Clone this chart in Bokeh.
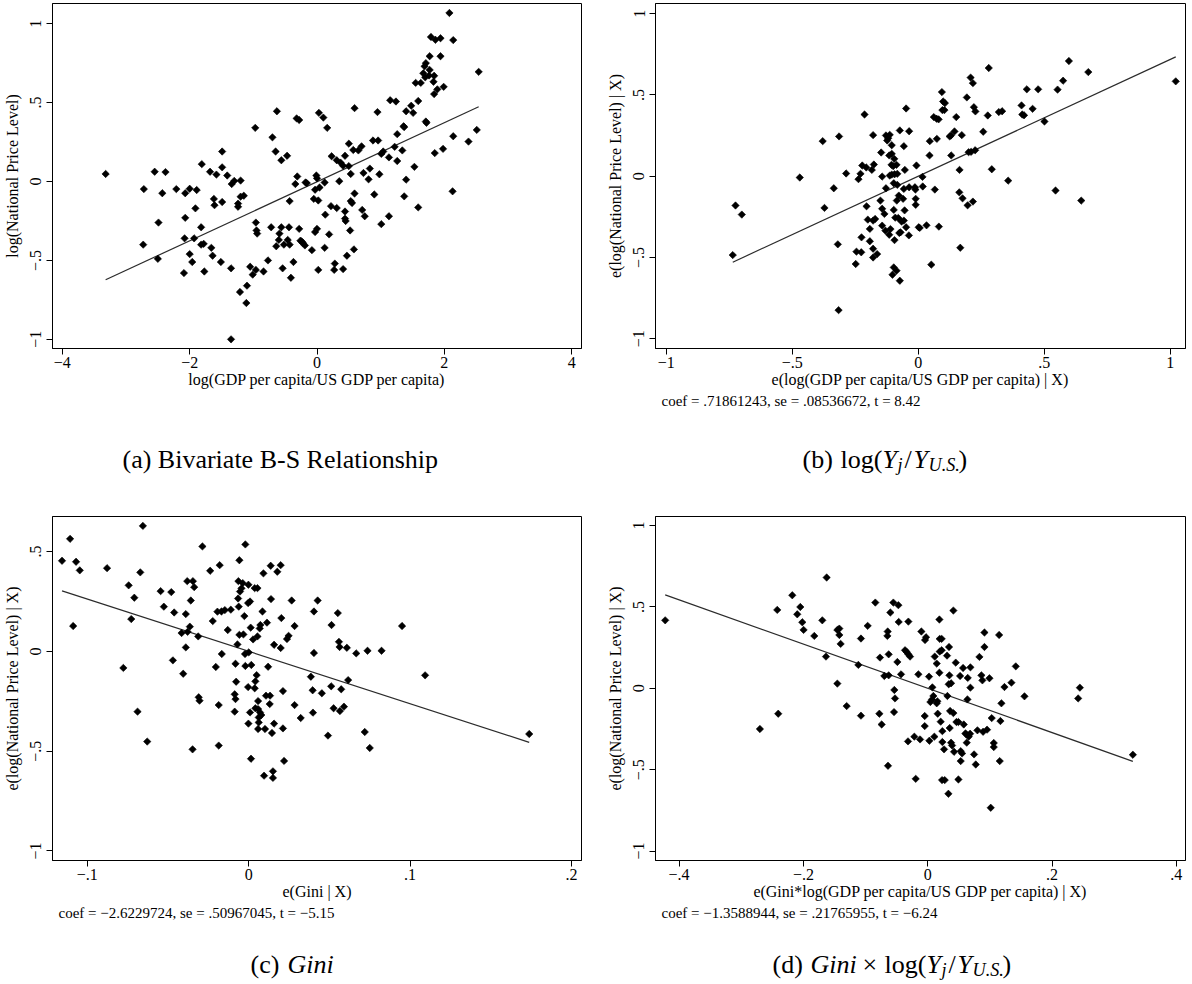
import numpy as np
from bokeh.plotting import figure
from bokeh.models import Range1d, FixedTicker, Title
from bokeh.core.properties import value
from bokeh.layouts import row, column
from bokeh.embed import file_html
from bokeh.resources import INLINE

# ---------------------------------------------------------------- data
# (a) log GDP per capita relative to the US vs log national price level
a_x = [-3.32, -2.73, -2.72, -2.55, -2.38, -2.43, -2.49, -2.50, -2.21, -2.07,
       -2.00, -1.89, -2.07, -2.08, -2.00, -1.96, -2.09, -1.91, -1.93, -1.82,
       -1.82, -1.78, -1.77, -1.81, -1.68, -1.58, -1.62, -1.61, -1.66, -1.64,
       -1.51, -1.49, -1.49, -1.49, -1.41, -1.34, -1.30, -1.20, -1.24, -1.24,
       -1.15, -1.20, -1.35, -1.21, -1.10, -1.11, -1.35, -1.05, -1.01, -0.96,
       -0.97, -0.96, -0.95, -0.94, -0.84, -0.77, -0.72, -0.70, -0.65, -0.63,
       -0.56, -0.47, -0.64, -0.59, -0.60, -0.56, -0.52, -0.54, -0.46, -0.43,
       -0.44, -0.43, -0.37, -0.41, -0.32, -0.28, -0.31, -0.34, -0.28, -0.26,
       -0.18, -0.16, -0.01, 0.00, -0.03, 0.04, 0.12, -0.05, 0.02, 0.03,
       0.10, 0.16, 0.23, 0.31, 0.37, 0.41, 0.44, 0.50, 0.50, 0.57,
       0.65, 0.70, 0.53, 0.35, 0.22, 0.31, 0.13, 0.44, 0.44, 0.45,
       0.53, 0.55, 0.59, 0.71, 0.75, 0.52, 0.58, 0.47, 0.41, 0.27,
       0.28, 0.12, 0.19, 0.02, -0.03, 0.00, -0.08, -0.19, -0.24, -0.22,
       0.73, 0.83, 0.81, 0.88, 0.96, 0.98, 0.90, 0.95, 0.59, 1.01,
       1.13, 1.01, 1.04, 1.13, 1.22, 1.26, 1.34, 1.26, 1.36, 1.37,
       1.15, 1.24, 1.40, 1.48, 1.51, 1.59, 1.40, 1.37, 1.53, 1.59,
       1.55, 1.63, 1.71, 1.72, 1.67, 1.69, 1.71, 1.70, 1.77, 1.76,
       1.84, 1.83, 1.77, 1.94, 1.89, 1.84, 1.99, 1.79, 1.86, 1.94,
       2.08, 2.14, 1.85, 1.98, 2.14, 2.13, 2.38, 2.51, 2.54]
a_y = [0.048, -0.40, -0.048, 0.062, 0.06, -0.074, -0.26, -0.49, -0.048, -0.074,
       -0.046, -0.054, -0.23, -0.36, -0.46, -0.51, -0.58, -0.17, -0.36, -0.29,
       -0.40, -0.395, -0.57, 0.11, 0.062, 0.044, -0.11, -0.15, -0.42, -0.47,
       -0.51, 0.19, 0.09, -0.13, 0.038, -0.016, 0.004, 0.006, -0.14, -0.16,
       -0.09, -0.096, -0.55, -0.70, -0.66, -0.77, -1.0, -0.54, -0.59, -0.56,
       0.34, -0.26, -0.31, -0.33, -0.57, -0.50, -0.29, 0.28, 0.19, 0.445,
       0.135, 0.163, -0.41, -0.33, -0.37, -0.29, -0.40, -0.55, -0.37, -0.40,
       -0.29, -0.124, -0.51, -0.61, 0.40, 0.39, 0.032, -0.016, -0.30, -0.375,
       -0.006, -0.01, 0.038, 0.02, -0.052, -0.038, -0.006, -0.11, -0.12, 0.435,
       0.405, 0.34, 0.16, 0.135, 0.12, 0.10, 0.163, 0.24, 0.098, 0.20,
       0.197, 0.223, 0.048, 0.002, -0.156, -0.168, -0.21, -0.19, -0.235, -0.25,
       -0.124, -0.136, -0.076, -0.18, -0.22, -0.31, -0.43, -0.47, -0.555, -0.56,
       -0.52, -0.42, -0.335, -0.56, -0.32, -0.30, -0.435, -0.405, -0.38, -0.39,
       0.054, 0.082, 0.014, 0.26, 0.26, 0.046, -0.082, 0.44, 0.465, -0.27,
       -0.22, 0.175, 0.19, 0.153, 0.22, 0.13, 0.197, 0.30, 0.35, 0.345,
       0.515, 0.507, 0.445, 0.48, 0.435, 0.51, 0.012, -0.094, 0.093, -0.164,
       0.625, 0.625, 0.38, 0.372, 0.686, 0.73, 0.75, 0.66, 0.707, 0.672,
       0.67, 0.632, 0.794, 0.794, 0.584, 0.554, 0.60, 0.916, 0.898, 0.908,
       1.068, 0.896, 0.18, 0.207, 0.287, -0.062, 0.253, 0.327, 0.695]

# (b) added-variable plot for log(Y_j / Y_US)
b_x = [-0.736, -0.725, -0.70, -0.47, -0.379, -0.314, -0.335, -0.372, -0.319, -0.316,
       -0.286, -0.248, -0.245, -0.226, -0.237, -0.229, -0.222, -0.206, -0.213, -0.179,
       -0.176, -0.184, -0.205, -0.20, -0.192, -0.179, -0.171, -0.225, -0.192, -0.179,
       -0.163, -0.179, -0.15, -0.147, -0.143, -0.134, -0.143, -0.13, -0.115, -0.11,
       -0.094, -0.097, -0.091, -0.079, -0.075, -0.128, -0.119, -0.123, -0.113, -0.105,
       -0.115, -0.105, -0.095, -0.106, -0.099, -0.086, -0.113, -0.105, -0.094, -0.083,
       -0.143, -0.128, -0.097, -0.083, -0.077, -0.085, -0.073, -0.097, -0.086, -0.102,
       -0.073, -0.066, -0.057, -0.07, -0.048, -0.037, -0.054, -0.06, -0.057, -0.048,
       -0.057, -0.036, -0.053, -0.036, -0.013, -0.011, -0.01, -0.01, -0.007, 0.017,
       0.018, 0.002, 0.006, 0.033, 0.046, 0.045, 0.074, 0.066, 0.082, 0.052,
       0.062, 0.073, 0.081, 0.096, 0.104, 0.099, 0.106, 0.094, 0.125, 0.131,
       0.13, 0.144, 0.151, 0.173, 0.164, 0.163, 0.176, 0.196, 0.217, 0.167,
       0.193, 0.208, 0.217, 0.221, 0.227, 0.20, 0.21, 0.226, 0.258, 0.276,
       0.28, 0.292, 0.32, 0.333, 0.357, 0.41, 0.413, 0.42, 0.454, 0.431,
       0.476, 0.501, 0.553, 0.575, 0.598, 0.675, 0.545, 0.647, 1.022]
b_y = [-0.485, -0.18, -0.236, -0.008, 0.216, 0.245, -0.074, -0.195, -0.419, -0.824,
       0.017, -0.54, -0.464, -0.468, -0.018, 0.015, 0.066, 0.054, 0.38, 0.253,
       0.072, 0.039, -0.185, -0.267, -0.324, -0.273, -0.263, -0.376, -0.40, -0.446,
       -0.479, -0.50, -0.15, 0.146, -0.20, -0.232, -0.304, -0.335, -0.36, -0.325,
       -0.393, -0.207, -0.255, -0.257, -0.349, 0.251, 0.234, 0.22, 0.255, 0.191,
       0.128, 0.138, 0.107, 0.07, 0.062, 0.07, 0.004, 0.01, 0.012, 0.015,
       -0.002, -0.074, -0.043, -0.053, -0.119, -0.15, 0.282, -0.561, -0.581, -0.606,
       -0.643, -0.279, -0.273, -0.345, -0.314, -0.364, -0.21, -0.139, -0.078, 0.417,
       0.185, 0.277, 0.039, -0.068, -0.068, -0.082, -0.139, -0.176, 0.066, -0.004,
       -0.063, -0.314, -0.318, -0.302, 0.216, 0.128, 0.23, -0.082, -0.31, -0.544,
       0.364, 0.354, 0.35, 0.407, 0.407, 0.46, 0.45, 0.518, 0.245, 0.128,
       0.251, 0.276, 0.364, 0.253, 0.039, -0.099, -0.136, -0.179, -0.156, -0.44,
       0.485, 0.607, 0.573, 0.425, 0.399, 0.148, 0.15, 0.16, 0.274, 0.374,
       0.666, 0.043, 0.395, 0.40, -0.027, 0.436, 0.38, 0.375, 0.415, 0.535,
       0.535, 0.337, 0.533, 0.588, 0.709, 0.641, -0.088, -0.15, 0.584]
b_coef, b_se, b_t = 0.71861243, 0.08536672, 8.42

# (c) added-variable plot for Gini
c_x = [-0.1157, -0.1107, -0.1070, -0.1047, -0.1088, -0.0878, -0.0656, -0.0744, -0.0709, -0.0728,
       -0.0672, -0.0777, -0.0689, -0.0629, -0.0546, -0.0526, -0.0480, -0.0462, -0.0470, -0.0416,
       -0.0390, -0.0381, -0.0346, -0.0338, -0.0359, -0.0379, -0.0365, -0.0390, -0.0313, -0.0406,
       -0.0310, -0.0305, -0.0348, -0.0287, -0.0239, -0.0223, -0.0204, -0.0186, -0.0186, -0.0194,
       -0.0180, -0.0169, -0.0148, -0.0167, -0.0130, -0.0111, -0.0082, -0.0078, -0.0087, -0.0082,
       -0.0087, -0.0070, -0.0066, -0.0062, -0.0058, -0.0064, -0.0058, -0.0054, -0.0045, -0.0037,
       -0.0033, -0.0027, -0.0023, -0.0021, -0.0021, -0.0004, -0.0004, -0.0002, -0.0002, 0.0000,
       0.0008, 0.0012, 0.0008, 0.0016, 0.0014, 0.0027, 0.0037, 0.0049, 0.0041, 0.0037,
       0.0041, 0.0054, 0.0054, 0.0058, 0.0058, 0.0062, 0.0062, 0.0058, 0.0068, 0.0072,
       0.0070, 0.0078, 0.0085, 0.0091, 0.0095, 0.0101, 0.0107, 0.0113, 0.0120, 0.0132,
       0.0130, 0.0136, 0.0138, 0.0144, 0.0150, 0.0150, 0.0157, 0.0157, 0.0177, 0.0198,
       0.0202, 0.0198, 0.0212, 0.0212, 0.0219, 0.0237, 0.0247, 0.0266, 0.0284, 0.0284,
       0.0322, 0.0404, 0.0427, 0.0404, 0.0385, 0.0396, 0.0398, 0.0453, 0.0491, 0.0513,
       0.0511, 0.0526, 0.0552, 0.0559, 0.0563, 0.0565, 0.0573, 0.0590, 0.0608, 0.0616,
       0.0666, 0.0719, 0.0736, 0.0750, 0.0823, 0.0950, 0.1093, 0.1738]
c_y = [0.454, 0.564, 0.449, 0.406, 0.127, 0.417, 0.629, 0.331, 0.269, 0.162,
       0.396, -0.083, -0.302, -0.452, 0.302, 0.224, 0.297, 0.195, -0.045, 0.092,
       0.187, 0.352, 0.352, 0.322, 0.255, 0.098, 0.124, 0.020, 0.075, -0.112,
       -0.230, -0.247, -0.491, 0.526, 0.404, 0.152, -0.078, -0.269, -0.472, 0.199,
       0.432, 0.200, 0.207, -0.013, 0.107, 0.209, -0.062, -0.152, -0.215, -0.239,
       -0.302, 0.035, 0.265, 0.224, 0.083, 0.352, 0.457, 0.300, 0.316, 0.342,
       0.085, 0.177, -0.013, 0.536, -0.073, 0.242, -0.179, 0.334, -0.362, -0.005,
       0.250, 0.119, -0.306, -0.068, -0.538, 0.060, 0.317, -0.119, -0.150, -0.185,
       -0.285, 0.317, 0.075, -0.249, -0.289, -0.331, -0.356, -0.389, 0.115, 0.132,
       -0.306, -0.319, 0.200, 0.391, -0.623, -0.389, -0.222, 0.144, -0.077, -0.222,
       -0.264, 0.429, 0.262, -0.409, -0.601, -0.634, 0.033, -0.362, 0.399, 0.432,
       0.167, 0.017, -0.199, -0.386, -0.549, 0.062, 0.078, 0.255, 0.127, -0.269,
       -0.334, 0.200, 0.255, -0.008, -0.127, -0.195, -0.307, -0.210, -0.422, 0.132,
       -0.175, -0.285, 0.192, 0.048, 0.022, -0.299, -0.190, -0.277, 0.018, -0.144,
       -0.010, -0.404, 0.003, -0.484, 0.003, 0.127, -0.120, -0.414]
c_coef, c_se, c_t = -2.6229724, 0.50967045, -5.15

# (d) added-variable plot for Gini x log(Y_j / Y_US)
d_x = [-0.4224, -0.2700, -0.2405, -0.2421, -0.2179, -0.2099, -0.2050, -0.2018, -0.1997, -0.1825,
       -0.1696, -0.1626, -0.1637, -0.1454, -0.1454, -0.1422, -0.1422, -0.1401, -0.1304, -0.1116,
       -0.1074, -0.1074, -0.0966, -0.0843, -0.0768, -0.0778, -0.0741, -0.0698, -0.0649, -0.0644,
       -0.0628, -0.0628, -0.0639, -0.0601, -0.0553, -0.0537, -0.0526, -0.0542, -0.0488, -0.0472,
       -0.0467, -0.0365, -0.0338, -0.0311, -0.0284, -0.0311, -0.0429, -0.0150, -0.0317, -0.0215,
       -0.0123, -0.0193, -0.0102, -0.0043, -0.0027, -0.0048, -0.0048, 0.0021, 0.0027, 0.0075,
       0.0091, 0.0043, 0.0070, 0.0145, 0.0156, 0.0107, 0.0113, 0.0145, 0.0161, 0.0188,
       0.0188, 0.0193, 0.0225, 0.0193, 0.0225, 0.0209, 0.0236, 0.0236, 0.0263, 0.0231,
       0.0274, 0.0333, 0.0311, 0.0317, 0.0343, 0.0349, 0.0338, 0.0376, 0.0360, 0.0354,
       0.0376, 0.0392, 0.0413, 0.0413, 0.0424, 0.0451, 0.0462, 0.0494, 0.0494, 0.0521,
       0.0531, 0.0531, 0.0553, 0.0569, 0.0580, 0.0607, 0.0623, 0.0644, 0.0639, 0.0628,
       0.0660, 0.0687, 0.0687, 0.0682, 0.0746, 0.0773, 0.0800, 0.0832, 0.0864, 0.0880,
       0.0891, 0.0913, 0.0913, 0.0955, 0.0993, 0.1014, 0.1030, 0.1063, 0.1063, 0.1149,
       0.1159, 0.1170, 0.1186, 0.1235, 0.1347, 0.1417, 0.1557, 0.2421, 0.2448, 0.3301]
d_y = [0.418, -0.250, -0.156, 0.482, 0.572, 0.455, 0.500, 0.406, 0.359, 0.322,
       0.418, 0.681, 0.195, 0.029, 0.359, 0.367, 0.328, 0.273, -0.109, 0.144,
       0.306, -0.168, 0.384, 0.527, 0.189, -0.156, -0.222, 0.076, 0.322, 0.349,
       0.209, 0.080, -0.476, 0.466, 0.527, -0.010, -0.062, -0.146, 0.162, 0.511,
       0.408, 0.234, 0.224, 0.209, 0.195, 0.410, 0.086, 0.086, -0.326, -0.297,
       -0.314, -0.556, 0.349, 0.297, 0.314, -0.170, -0.232, 0.072, -0.322, 0.006,
       -0.047, -0.084, -0.068, -0.092, -0.080, -0.297, 0.195, 0.152, -0.156, 0.096,
       0.423, 0.304, 0.304, 0.226, 0.234, -0.205, -0.263, -0.330, -0.375, -0.564,
       -0.564, -0.648, 0.201, -0.047, 0.254, 0.080, 0.025, 0.031, -0.139, -0.244,
       -0.334, -0.351, 0.478, -0.152, -0.390, 0.158, -0.207, -0.207, -0.560, 0.076,
       -0.386, -0.447, -0.400, 0.125, -0.222, -0.277, -0.283, 0.064, -0.068, -0.334,
       -0.297, 0.129, 0.004, -0.279, -0.406, -0.468, -0.258, 0.193, 0.080, 0.049,
       -0.267, 0.254, 0.343, -0.254, 0.062, -0.734, -0.183, -0.336, -0.361, 0.328,
       -0.447, -0.201, -0.092, 0.008, 0.035, 0.135, -0.049, -0.062, 0.004, -0.408]
d_coef, d_se, d_t = -1.3588944, 0.21765955, -6.24

# axis ticks of each panel
a_xticks = [-4, -2, 0, 2, 4]
a_yticks = [-1, -0.5, 0, 0.5, 1]
b_xticks = [-1, -0.5, 0, 0.5, 1]
b_yticks = [-1, -0.5, 0, 0.5, 1]
c_xticks = [-0.1, 0, 0.1, 0.2]
c_yticks = [-1, -0.5, 0, 0.5]
d_xticks = [-0.4, -0.2, 0, 0.2, 0.4]
d_yticks = [-1, -0.5, 0, 0.5, 1]

y_title = "log(National Price Level)"
av_y_title = "e(log(National Price Level) | X)"

# ---------------------------------------------------------------- helpers
SERIF = "Liberation Serif"
MINUS = "\u2212"
FONT = "16px"


def stata_num(v):
    """Stata-style number: no leading zero, true minus sign."""
    s = f"{abs(v):g}"
    if s.startswith("0."):
        s = s[1:]
    return (MINUS + s) if v < 0 else s


def stata_coef(v, nd):
    s = f"{abs(v):.{nd}f}"
    if s.startswith("0."):
        s = s[1:]
    return (MINUS + s) if v < 0 else s


def panel(width, height, left, right, top, bottom, xr, yr,
          xticks, yticks, xlabel, ylabel):
    p = figure(width=width, height=height, output_backend="svg",
               toolbar_location=None, title=None,
               x_range=Range1d(*xr), y_range=Range1d(*yr),
               min_border_left=left, min_border_right=right,
               min_border_top=top, min_border_bottom=bottom)
    p.background_fill_color = "white"
    p.border_fill_color = "white"
    p.outline_line_color = "black"
    p.outline_line_width = 1
    p.grid.visible = False
    p.xaxis.ticker = FixedTicker(ticks=xticks)
    p.yaxis.ticker = FixedTicker(ticks=yticks)
    p.xaxis.major_label_overrides = {t: stata_num(t) for t in xticks}
    p.yaxis.major_label_overrides = {t: stata_num(t) for t in yticks}
    p.yaxis.major_label_orientation = "vertical"
    p.axis.minor_tick_line_color = None
    p.axis.axis_line_color = "black"
    p.axis.major_tick_line_color = "black"
    p.axis.major_tick_in = 0
    p.axis.major_tick_out = 6
    p.xaxis.major_label_standoff = 2
    p.yaxis.major_label_standoff = 5
    p.axis.major_label_text_font = SERIF
    p.axis.major_label_text_font_size = FONT
    p.axis.major_label_text_color = "black"
    p.axis.axis_label_text_font = SERIF
    p.axis.axis_label_text_font_size = FONT
    p.axis.axis_label_text_font_style = "normal"
    p.axis.axis_label_text_color = "black"
    p.xaxis.axis_label_standoff = 0
    p.yaxis.axis_label_standoff = 7
    p.xaxis.axis_label = xlabel
    p.yaxis.axis_label = ylabel
    return p


def scatter_fit(p, xs, ys, slope, intercept):
    xs = np.asarray(xs, float)
    lx = np.array([xs.min(), xs.max()])
    p.line(lx, intercept + slope * lx, line_color="#2b2b2b", line_width=1.2)
    p.scatter(xs, ys, marker="square", angle=np.pi / 4, size=5.2,
              fill_color="black", line_color="black", line_width=0.6)


def note(p, coef, se, t, nd_coef):
    text = (f"coef = {stata_coef(coef, nd_coef)}, se = {stata_coef(se, 8)}, "
            f"t = {stata_num(t)}")
    p.add_layout(Title(text=text, align="left", offset=6, standoff=0,
                       text_font=SERIF, text_font_size="15px",
                       text_font_style="normal", text_color="black"), "below")


CAP = 26   # caption font size (px)


def caption_strip(height, captions):
    """A full-width strip holding the sub-figure captions (pixel coordinates).

    Each caption is a run of pieces (text, style, scale, drop, advance) laid
    out left to right.
    """
    s = figure(width=1192, height=height, output_backend="svg",
               toolbar_location=None, title=None,
               x_range=Range1d(0, 1192), y_range=Range1d(height, 0),
               x_axis_location=None, y_axis_location=None,
               min_border=0)
    s.outline_line_color = None
    s.grid.visible = False
    s.background_fill_color = "white"
    s.border_fill_color = "white"
    for x0, base, pieces in captions:
        x = x0
        for text, style, scale, drop, advance in pieces:
            size = CAP * scale
            s.text(x=[x], y=[base + drop], text=[text],
                   text_font=value(SERIF), text_font_size=value(f"{size:.1f}px"),
                   text_font_style=style, text_color="black",
                   text_align="left", text_baseline="alphabetic")
            x += advance
    return s


ratio_pieces = [("log(", "normal", 1.0, 0, 42), ("Y", "italic", 1.0, 0, 15),
                ("j", "italic", 0.7, 5, 7), ("/", "normal", 1.0, 0, 9),
                ("Y", "italic", 1.0, 0, 15), ("U.S.", "italic", 0.7, 5, 30),
                (")", "normal", 1.0, 0, 9)]

# ---------------------------------------------------------------- panel (a)
pa = panel(595, 432, 50, 14, 3, 64, (-4.155, 4.155), (-1.058, 1.128),
           a_xticks, a_yticks, "log(GDP per capita/US GDP per capita)", y_title)
a_slope, a_int = np.polyfit(a_x, a_y, 1)
scatter_fit(pa, a_x, a_y, a_slope, a_int)

# ---------------------------------------------------------------- panel (b)
pb = panel(597, 432, 60, 7, 3, 84, (-1.0425, 1.0607), (-1.060, 1.063),
           b_xticks, b_yticks, "e(log(GDP per capita/US GDP per capita) | X)", av_y_title)
scatter_fit(pb, b_x, b_y, b_coef, 0.0)
note(pb, b_coef, b_se, b_t, 8)

# ---------------------------------------------------------------- panel (c)
pc = panel(595, 464, 51, 14, 40, 80, (-0.1216, 0.2062), (-1.048, 0.676),
           c_xticks, c_yticks, "e(Gini | X)", av_y_title)
scatter_fit(pc, c_x, c_y, c_coef, 0.0)
note(pc, c_coef, c_se, c_t, 7)

# ---------------------------------------------------------------- panel (d)
pd_ = panel(597, 464, 60, 7, 40, 80, (-0.438, 0.4148), (-1.058, 1.056),
            d_xticks, d_yticks,
            "e(Gini*log(GDP per capita/US GDP per capita) | X)", av_y_title)
scatter_fit(pd_, d_x, d_y, d_coef, 0.0)
note(pd_, d_coef, d_se, d_t, 7)

# ---------------------------------------------------------------- captions
top_caps = caption_strip(44, [
    (122, 27, [("(a) Bivariate B-S Relationship", "normal", 1.0, 0, 0)]),
    (802, 27, [("(b)", "normal", 1.0, 0, 38)] + ratio_pieces),
])
bottom_caps = caption_strip(44, [
    (250, 24, [("(c)", "normal", 1.0, 0, 37), ("Gini", "italic", 1.0, 0, 0)]),
    (772, 24, [("(d)", "normal", 1.0, 0, 38), ("Gini", "italic", 1.0, 0, 52),
               ("\u00d7", "normal", 1.0, 0, 22)] + ratio_pieces),
])

layout = column(row(pa, pb), top_caps, row(pc, pd_), bottom_caps)
open("out.html", "w").write(file_html(layout, INLINE))
